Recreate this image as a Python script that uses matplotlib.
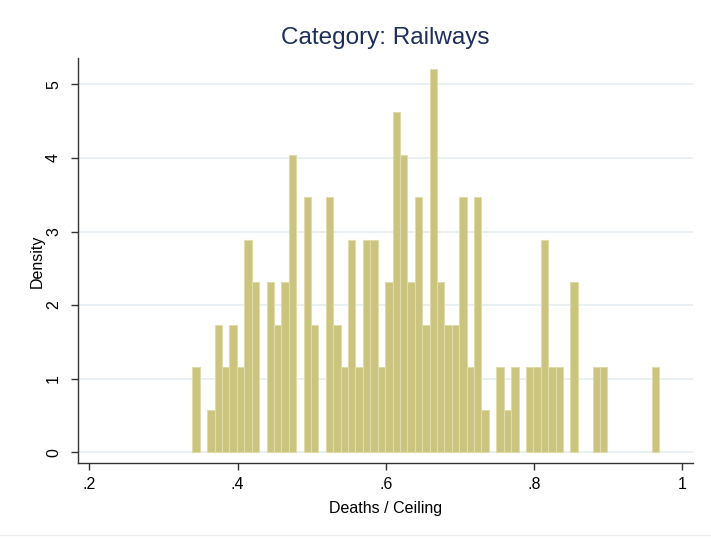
import numpy as np
import matplotlib
matplotlib.use("Agg")
import matplotlib.pyplot as plt

# histogram data: deaths / ceiling, railways, bin width .01
bin_start = 0.339
bin_width = 0.01
bin_counts = [2, 0, 1, 3, 2, 3, 2, 5, 4, 0,
              4, 3, 4, 7, 0, 6, 3, 0, 6, 3,
              2, 5, 2, 5, 5, 2, 4, 8, 7, 4,
              6, 3, 9, 4, 3, 3, 6, 2, 6, 1,
              0, 2, 1, 2, 0, 2, 2, 5, 2, 2,
              0, 4, 0, 0, 2, 2, 0, 0, 0, 0,
              0, 0, 2]

x_ticks = [0.2, 0.4, 0.6, 0.8, 1.0]
x_tick_labels = [".2", ".4", ".6", ".8", "1"]
y_ticks = [0, 1, 2, 3, 4, 5]

plt.rcParams['font.family'] = ['Liberation Sans', 'DejaVu Sans']

counts = np.array(bin_counts, dtype=float)
density = counts / (counts.sum() * bin_width)
lefts = bin_start + bin_width * np.arange(len(counts))
keep = counts > 0

fig = plt.figure(figsize=(7.11, 5.38), dpi=100)
fig.set_facecolor('white')
ax = fig.add_axes([0.1093, 0.1388, 0.8658, 0.7528])

ax.bar(lefts[keep], density[keep], width=bin_width, align='edge',
       color='#cbc47f', edgecolor='#e0dcaa', linewidth=0.8, zorder=2)

ax.set_xlim(0.1843, 1.0148)
ax.set_ylim(-0.1495, 5.353)
ax.set_xticks(x_ticks)
ax.set_xticklabels(x_tick_labels)
ax.set_yticks(y_ticks)
ax.set_yticklabels([str(v) for v in y_ticks], rotation=90, va='center')

# light horizontal grid like Stata's s2color
ax.grid(axis='y', color='#e6eff2', linewidth=1.3, zorder=0)
ax.set_axisbelow(True)

for side in ['top', 'right']:
    ax.spines[side].set_visible(False)
for side in ['left', 'bottom']:
    ax.spines[side].set_color('#333333')
    ax.spines[side].set_linewidth(1.0)

ax.tick_params(axis='both', colors='#333333', length=5, width=1.0,
               labelsize=11.5, labelcolor='black')
ax.tick_params(axis='x', pad=4.5)
ax.tick_params(axis='y', pad=7)

ax.set_xlabel('Deaths / Ceiling', fontsize=11.5, labelpad=7)
ax.set_ylabel('Density', fontsize=11.5, labelpad=1)
ax.set_title('Category: Railways', fontsize=17.5, color='#1e2e5c', pad=10)

# faint rule along the bottom edge
fig.add_artist(plt.Line2D([0, 1], [0.005, 0.005], color='#eeeeee', linewidth=1.0))

plt.savefig('out.png', dpi=100, facecolor='white')
